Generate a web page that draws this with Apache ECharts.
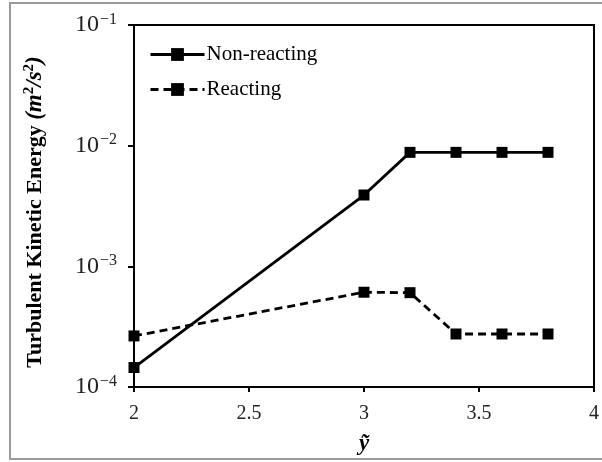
<!DOCTYPE html>
<html>
<head>
<meta charset="utf-8">
<script src="https://cdn.jsdelivr.net/npm/echarts@6/dist/echarts.min.js"></script>
<style>
  html, body { margin: 0; padding: 0; background: #fff; overflow: hidden; }
  #frame { position: absolute; left: 9px; top: 2px; width: 610px; height: 458px; border: 2px solid #9a9a9a; box-sizing: border-box; }
  #chart { position: absolute; left: 0; top: 0; width: 602px; height: 462px; }
</style>
</head>
<body>
<div id="frame"></div>
<div id="chart"></div>
<script>
const yTilde = [2, 3, 3.2, 3.4, 3.6, 3.8]
const nonReacting = [1.45e-4, 3.9e-3, 8.8e-3, 8.8e-3, 8.8e-3, 8.8e-3]
const reacting = [2.65e-4, 6.1e-4, 6.05e-4, 2.75e-4, 2.75e-4, 2.75e-4]
const seriesNames = ['Non-reacting', 'Reacting']

const serif = '"Liberation Serif", "DejaVu Serif", serif'
const chart = echarts.init(document.getElementById('chart'))

function pairs(vals) {
  return yTilde.map((x, i) => [x, vals[i]])
}

function makeSeries(name, vals, dashed) {
  return {
    name: name,
    type: 'line',
    data: pairs(vals),
    symbol: 'rect',
    symbolSize: 11,
    showAllSymbol: true,
    lineStyle: { width: 2.8, color: '#000', type: dashed ? [8, 5] : 'solid' },
    itemStyle: { color: '#000' },
    emphasis: { disabled: true },
    z: 3,
  }
}

chart.setOption({
  animation: false,
  textStyle: { fontFamily: serif },
  grid: {
    left: 134, right: 5, top: 25, bottom: 75,
    show: true, borderColor: '#000', borderWidth: 2,
  },
  legend: {
    left: 144, top: 39, orient: 'vertical',
    itemWidth: 54, itemHeight: 16, itemGap: 14,
    lineStyle: { width: 3 },
    textStyle: { fontFamily: serif, fontSize: 21, color: '#000', padding: [0, 0, 0, -3] },
    data: seriesNames,
  },
  xAxis: {
    type: 'value', min: 2, max: 4, interval: 0.5,
    axisLine: { lineStyle: { color: '#000', width: 2 } },
    axisTick: { show: true, length: 5, lineStyle: { color: '#000', width: 2 } },
    axisLabel: { color: '#222', fontSize: 20, fontFamily: serif, margin: 17 },
    splitLine: { show: false },
    name: 'ỹ', nameLocation: 'middle', nameGap: 46,
    nameTextStyle: { fontFamily: serif, fontSize: 23, fontWeight: 'bold', fontStyle: 'italic', color: '#000' },
  },
  yAxis: {
    type: 'log', logBase: 10, min: 1e-4, max: 1e-1,
    axisLine: { show: true, lineStyle: { color: '#000', width: 2 } },
    axisTick: { show: true, length: 6, lineStyle: { color: '#000', width: 2 } },
    splitLine: { show: false },
    minorTick: { show: false },
    axisLabel: {
      margin: 17,
      formatter: function (v) {
        const e = Math.round(Math.log10(v))
        return '{b|10}{s|\u2212' + Math.abs(e) + '}'
      },
      rich: {
        b: { fontFamily: serif, fontSize: 24, color: '#222' },
        s: { fontFamily: serif, fontSize: 16, color: '#222', padding: [0, 0, 11, 1] },
      },
    },
    name: '{t|Turbulent Kinetic Energy }{m|(m}{p|2}{m|/s}{p|2}{m|)}',
    nameLocation: 'middle', nameGap: 86, nameRotate: 90,
    nameTextStyle: {
      padding: [0, 12, 0, 0],
      rich: {
        t: { fontFamily: serif, fontSize: 22, fontWeight: 'bold', color: '#000' },
        m: { fontFamily: serif, fontSize: 23, fontWeight: 'bold', fontStyle: 'italic', color: '#000' },
        p: { fontFamily: serif, fontSize: 15, fontWeight: 'bold', color: '#000', padding: [0, 0, 11, 0] },
      },
    },
  },
  series: [
    makeSeries(seriesNames[0], nonReacting, false),
    makeSeries(seriesNames[1], reacting, true),
  ],
})
</script>
</body>
</html>
